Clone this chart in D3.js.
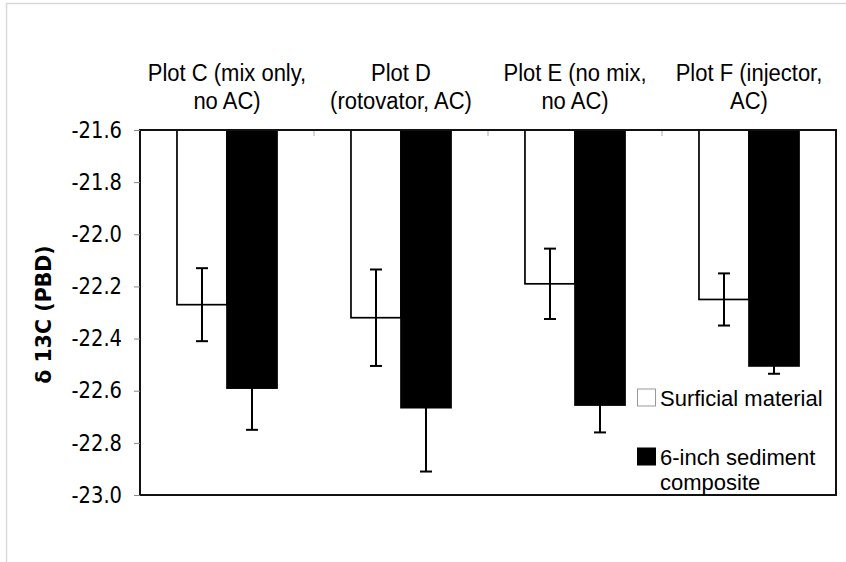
<!DOCTYPE html>
<html>
<head>
<meta charset="utf-8">
<script src="https://cdn.jsdelivr.net/npm/d3@7"></script>
<style>
  html, body { margin: 0; padding: 0; background: #fff; }
  svg { display: block; }
</style>
</head>
<body>
<svg id="chart" width="846" height="562"></svg>
<script>
// Plot categories and their two-line headings
const categories = ["Plot C", "Plot D", "Plot E", "Plot F"];
const categoryLines = [
  ["Plot C (mix only,", "no AC)"],
  ["Plot D", "(rotovator, AC)"],
  ["Plot E (no mix,", "no AC)"],
  ["Plot F (injector,", "AC)"]
];

// Series: mean delta 13C and error half-widths
const seriesNames = ["Surficial material", "6-inch sediment composite"];
const surficial = [-22.27, -22.32, -22.19, -22.25];
const surficialErr = [0.14, 0.185, 0.135, 0.10];
const sediment = [-22.59, -22.665, -22.655, -22.505];
const sedimentErr = [0.16, 0.245, 0.105, 0.03];

// Axis ticks
const yTicks = [-21.6, -21.8, -22.0, -22.2, -22.4, -22.6, -22.8, -23.0];
const yLabel = "\u03b4 13C (PBD)";

const svg = d3.select("#chart");
const margin = { left: 140, right: 10, top: 130, bottom: 67 };
const W = 846, H = 562;
const x0 = margin.left, x1 = W - margin.right;
const yTop = margin.top, yBot = H - margin.bottom;
const stretch = 1.09; // glyphs are drawn slightly taller than wide

// outer light frame
svg.append("rect")
  .attr("x", 6.5).attr("y", 3.5)
  .attr("width", 900).attr("height", 700)
  .attr("fill", "none").attr("stroke", "#d9d9d9").attr("stroke-width", 1.5);

const x = d3.scaleBand().domain(categories).range([x0, x1])
  .paddingInner(0.425).paddingOuter(0.2125);
const xSub = d3.scaleBand().domain([0, 1]).range([0, x.bandwidth()]);
const y = d3.scaleLinear().domain([-23.0, -21.6]).range([yBot, yTop]);

const fills = ["#ffffff", "#000000"];
const values = [surficial, sediment];
const errs = [surficialErr, sedimentErr];

// bars hang down from the top of the value range
const rows = [];
categories.forEach((c, i) => {
  [0, 1].forEach(s => rows.push({ c, s, v: values[s][i], e: errs[s][i] }));
});

const g = svg.append("g");
g.selectAll("rect.bar").data(rows).join("rect")
  .attr("class", "bar")
  .attr("x", d => x(d.c) + xSub(d.s))
  .attr("y", y(-21.6))
  .attr("width", xSub.bandwidth())
  .attr("height", d => y(d.v) - y(-21.6))
  .attr("fill", d => fills[d.s])
  .attr("stroke", "#000")
  .attr("stroke-width", 1.7);

// error bars
const cap = 6;
const eb = g.selectAll("g.err").data(rows).join("g").attr("class", "err")
  .attr("transform", d => `translate(${x(d.c) + xSub(d.s) + xSub.bandwidth() / 2},0)`);
eb.append("line")
  .attr("y1", d => y(d.v + d.e)).attr("y2", d => y(d.v - d.e))
  .attr("stroke", "#000").attr("stroke-width", 2);
eb.append("line")
  .attr("x1", -cap).attr("x2", cap)
  .attr("y1", d => y(d.v + d.e)).attr("y2", d => y(d.v + d.e))
  .attr("stroke", "#000").attr("stroke-width", 2);
eb.append("line")
  .attr("x1", -cap).attr("x2", cap)
  .attr("y1", d => y(d.v - d.e)).attr("y2", d => y(d.v - d.e))
  .attr("stroke", "#000").attr("stroke-width", 2);

// category boundary ticks along the top edge
const bounds = d3.range(1, categories.length).map(i => x0 + x.step() * i);
svg.selectAll("line.ctick").data(bounds).join("line")
  .attr("class", "ctick")
  .attr("x1", d => d).attr("x2", d => d)
  .attr("y1", yTop).attr("y2", yTop + 6)
  .attr("stroke", "#aaa").attr("stroke-width", 1);

// plot frame
svg.append("rect")
  .attr("x", x0).attr("y", yTop)
  .attr("width", x1 - x0).attr("height", yBot - yTop)
  .attr("fill", "none").attr("stroke", "#111").attr("stroke-width", 2);

// y axis
const fmt = d3.format(".1f");
const yAxis = d3.axisLeft(y).tickValues(yTicks)
  .tickFormat(d => fmt(d).replace("\u2212", "-"))
  .tickSize(6).tickPadding(12);
const ya = svg.append("g").attr("transform", `translate(${x0},0)`).call(yAxis);
ya.select(".domain").remove();
ya.selectAll(".tick line").attr("stroke", "#888").attr("stroke-width", 1);
ya.selectAll(".tick text")
  .attr("font-family", "'DejaVu Sans', Verdana, sans-serif")
  .attr("font-size", 19.5).attr("fill", "#000")
  .attr("transform", `scale(1,${stretch + 0.06})`);

svg.append("text")
  .attr("transform", `translate(51,${(yTop + yBot) / 2 + 2}) rotate(-90)`)
  .attr("text-anchor", "middle")
  .attr("font-family", "'DejaVu Sans', Verdana, sans-serif")
  .attr("font-weight", "bold")
  .attr("font-size", 20.5)
  .text(yLabel);

// category headings, one text per line
const headFont = "'Liberation Sans', Arial, sans-serif";
categories.forEach((c, i) => {
  const cx = x(c) + x.bandwidth() / 2;
  categoryLines[i].forEach((line, k) => {
    svg.append("text")
      .attr("transform", `translate(${cx},${81 + k * 28}) scale(1,${stretch})`)
      .attr("text-anchor", "middle")
      .attr("font-family", headFont)
      .attr("font-size", 22)
      .attr("fill", "#000")
      .text(line);
  });
});

// legend: swatch plus wrapped label per entry
const legendRows = [
  { lines: ["Surficial material"], y: 406, fill: "#fff", stroke: "#999" },
  { lines: ["6-inch sediment", "composite"], y: 465, fill: "#000", stroke: "#000" }
];
legendRows.forEach(r => {
  svg.append("rect").attr("x", 637.5).attr("y", r.y - 17)
    .attr("width", 18).attr("height", 17)
    .attr("fill", r.fill).attr("stroke", r.stroke).attr("stroke-width", 1);
  const t = svg.append("text")
    .attr("font-family", headFont)
    .attr("font-size", 22)
    .attr("fill", "#000");
  r.lines.forEach((ln, k) => {
    t.append("tspan").attr("x", 660).attr("y", r.y + k * 24.8).text(ln);
  });
});
</script>
</body>
</html>
